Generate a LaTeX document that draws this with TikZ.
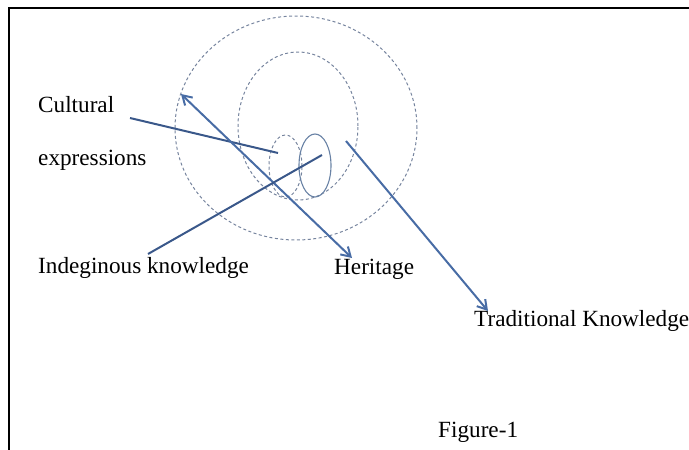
\documentclass[tikz,border=0pt]{standalone}
\usepackage{fontspec}
\setmainfont{Liberation Serif}
\usetikzlibrary{arrows.meta,shapes.geometric}
\definecolor{lineblue}{RGB}{72,108,165}
\definecolor{darkblue}{RGB}{58,88,138}
\definecolor{dashgray}{RGB}{118,132,158}
\definecolor{solidring}{RGB}{105,130,165}
\begin{document}
\begin{tikzpicture}[x=1pt,y=-1pt,
  lbl/.style={anchor=base west, inner sep=0pt, font=\fontsize{23.2}{28}\selectfont},
  ring/.style={draw=dashgray, dash pattern=on 3pt off 2.5pt, line width=1pt, ellipse, inner sep=0pt},
  solidring/.style={draw=solidring, line width=1.1pt, ellipse, inner sep=0pt},
  conn/.style={draw=lineblue, line width=2pt},
  darkconn/.style={draw=darkblue, line width=2pt},
  tip/.style={{Straight Barb[length=9pt,width=11pt]}-{Straight Barb[length=9pt,width=11pt]}},
  endtip/.style={-{Straight Barb[length=9pt,width=11pt]}}]
\useasboundingbox (0,0) rectangle (689,450);
\draw[line width=1.2pt] (9,450) -- (9,8) -- (689,8);

% rings
\node[ring, minimum width=242pt, minimum height=224pt] (outer) at (296,128) {};
\node[ring, minimum width=120pt, minimum height=148pt] (inner) at (298,126) {};
\node[ring, minimum width=33pt, minimum height=62pt] (small) at (285.5,166) {};
\node[solidring, minimum width=32pt, minimum height=63pt] (core) at (315,165.5) {};

% labels
\node[lbl] (cult) at (38,112) {Cultural};
\node[lbl] (expr) at (38,165) {expressions};
\node[lbl] (indig) at (38,273) {Indeginous knowledge};
\node[lbl] (herit) at (334,274) {Heritage};
\node[lbl] (trad) at (474,326) {Traditional Knowledge};
\node[lbl] (fig) at (438,437) {Figure-1};

% connector end points
\coordinate (c1) at (130,118);
\coordinate (c2) at (278,153);
\coordinate (h1) at (181,94);
\coordinate (h2) at (352,258);
\coordinate (i1) at (148,254);
\coordinate (i2) at (322,155);
\coordinate (t1) at (346,141);
\coordinate (t2) at (488,311);

\draw[darkconn] (c1) -- (c2);
\draw[conn, tip] (h1) -- (h2);
\draw[darkconn] (i1) -- (i2);
\draw[conn, endtip] (t1) -- (t2);
\end{tikzpicture}
\end{document}
